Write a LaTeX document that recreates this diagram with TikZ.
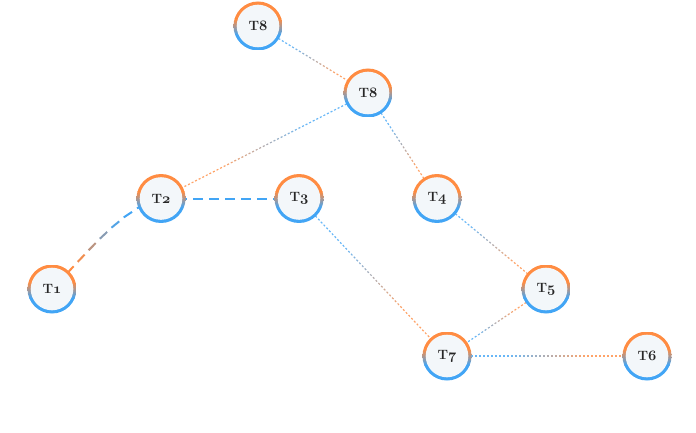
\documentclass[tikz,border=0pt]{standalone}
\usetikzlibrary{decorations.markings}
\definecolor{co}{HTML}{FF8C42}
\definecolor{cb}{HTML}{42A5F5}
\definecolor{cf}{HTML}{F3F7FA}
\pgfdeclarelayer{bg}
\pgfsetlayers{bg,main}
\newcommand\osn[1]{{\usefont{OML}{cmm}{b}{it}#1}}
\newcommand\gmark[4]{%
  \pgfmathsetmacro\gratio{\pgfkeysvalueof{/pgf/decoration/mark info/distance from start}/\pgfdecoratedpathlength}%
  \pgfmathtruncatemacro\gfrac{min(100,max(0,round(100*(\gratio-0.3)/0.4)))}%
  \draw[line width=#4, draw={#2!\gfrac!#1}] (0pt,0pt) -- (#3,0pt);}
\tikzset{
  tnode/.style={circle, minimum size=49pt, inner sep=0pt,
    path picture={
      \fill[co] (path picture bounding box.north west) rectangle ([yshift=7pt]path picture bounding box.east);
      \shade[top color=co, bottom color=cb] ([yshift=7pt]path picture bounding box.west) rectangle ([yshift=-9pt]path picture bounding box.east);
      \fill[cb] ([yshift=-9pt]path picture bounding box.west) rectangle (path picture bounding box.south east);
      \fill[cf] (path picture bounding box.center) circle[radius=21.3pt];},
    font=\fontsize{13.5}{15}\selectfont\bfseries, text=black!85},
  gdot/.style 2 args={decoration={markings, mark=between positions 0 and 1 step 4pt with {\gmark{#1}{#2}{2pt}{1.2pt}}}, decorate},
  gdash/.style 2 args={decoration={markings, mark=between positions 0 and 1 step 16pt with {\gmark{#1}{#2}{10pt}{2pt}}}, decorate},
  sdash/.style={line width=2pt, dash pattern=on 10pt off 6pt}
}
\begin{document}
\begin{tikzpicture}[x=1pt,y=-1pt]
\useasboundingbox (0,0) rectangle (696,433);
\node[tnode] (T8a) at (258,26) {T\osn{8}};
\node[tnode] (T8b) at (368,93) {T\osn{8}};
\node[tnode] (T2) at (161,198.5) {T\osn{2}};
\node[tnode] (T3) at (299,198.5) {T\osn{3}};
\node[tnode] (T4) at (437,198.5) {T\osn{4}};
\node[tnode] (T1) at (52,289) {T\osn{1}};
\node[tnode] (T5) at (546,289) {T\osn{5}};
\node[tnode] (T7) at (447,356) {T\osn{7}};
\node[tnode] (T6) at (647,356) {T\osn{6}};
\begin{pgfonlayer}{bg}
\begin{scope}[opacity=0.8]
\path[gdot={cb}{co}] (T8a.center) -- (T8b.center);
\path[gdot={cb}{co}] (T8b.center) -- (T2.center);
\path[gdot={cb}{co}] (T8b.center) -- (T4.center);
\path[gdot={cb}{co}] (T3.center) -- (T7.center);
\path[gdot={cb}{co}] (T4.center) -- (T5.center);
\path[gdot={co}{cb}] (T5.center) -- (T7.center);
\path[gdot={cb}{co}] (T7.center) -- (T6.center);
\end{scope}
\path[gdash={cb}{co}] (T2.center) .. controls (121,209.3) and (91.7,248.6) .. (T1.center);
\draw[cb, sdash] (T2.center) -- (T3.center);
\end{pgfonlayer}
\end{tikzpicture}
\end{document}
